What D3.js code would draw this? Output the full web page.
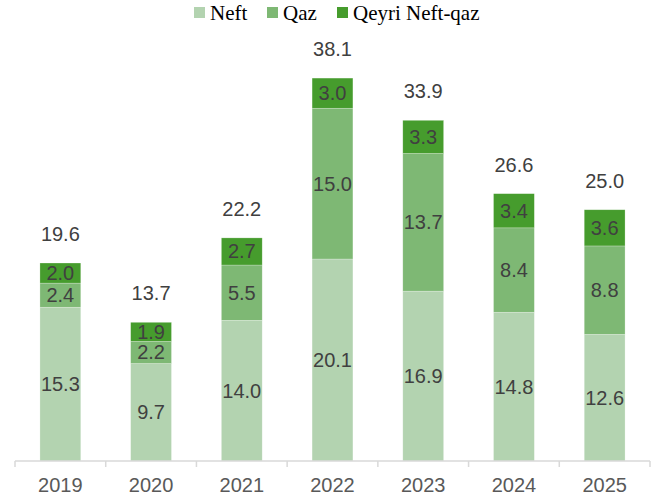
<!DOCTYPE html>
<html>
<head>
<meta charset="utf-8">
<script src="https://d3js.org/d3.v7.min.js"></script>
<style>
  body { margin: 0; background: #fff; }
  .val { font-family: "Liberation Sans", Arial, sans-serif; font-size: 20px; fill: #404040; }
  .legend text { font-family: "Liberation Serif", "Times New Roman", serif; font-size: 21px; fill: #000; }
</style>
</head>
<body>
<script>
var years = ["2019","2020","2021","2022","2023","2024","2025"]
var neft = [15.3, 9.7, 14.0, 20.1, 16.9, 14.8, 12.6]
var qaz = [2.4, 2.2, 5.5, 15.0, 13.7, 8.4, 8.8]
var qeyri = [2.0, 1.9, 2.7, 3.0, 3.3, 3.4, 3.6]
var totals = [19.6, 13.7, 22.2, 38.1, 33.9, 26.6, 25.0]
var seriesNames = ["Neft", "Qaz", "Qeyri Neft-qaz"]
var colors = ["#b3d3b0", "#7eb874", "#469c2d"]

var W = 652, H = 500
var svg = d3.select("body").append("svg").attr("width", W).attr("height", H)

var x = d3.scaleBand().domain(years).range([15, 650]).paddingInner(0.55).paddingOuter(0.275)
var y = d3.scaleLinear().domain([0, 40]).range([461, 59])

var rows = years.map(function(yr, i) {
  return {year: yr, Neft: neft[i], Qaz: qaz[i], "Qeyri Neft-qaz": qeyri[i]}
})
var stack = d3.stack().keys(seriesNames)(rows)

var layers = svg.selectAll(".layer").data(stack).enter().append("g")
  .attr("class", "layer")
  .attr("fill", function(d, i) { return colors[i] })

layers.selectAll("rect").data(function(d) { return d }).enter().append("rect")
  .attr("x", function(d) { return x(d.data.year) })
  .attr("width", x.bandwidth())
  .attr("y", function(d) { return y(d[1]) })
  .attr("height", function(d) { return y(d[0]) - y(d[1]) })
  .attr("stroke", "#ffffff")
  .attr("stroke-opacity", 0.4)
  .attr("stroke-width", 0.6)

// segment labels
layers.selectAll("text").data(function(d) { return d }).enter().append("text")
  .attr("class", "val")
  .attr("text-anchor", "middle")
  .attr("x", function(d) { return x(d.data.year) + x.bandwidth() / 2 })
  .attr("y", function(d) { return (y(d[0]) + y(d[1])) / 2 + 7 })
  .text(function(d) { return d3.format(".1f")(d[1] - d[0]) })

// totals
svg.selectAll(".total").data(years).enter().append("text")
  .attr("class", "val total")
  .attr("text-anchor", "middle")
  .attr("x", function(d) { return x(d) + x.bandwidth() / 2 })
  .attr("y", function(d, i) { return y(neft[i] + qaz[i] + qeyri[i]) - 22 })
  .text(function(d, i) { return d3.format(".1f")(totals[i]) })

// x axis
var axis = svg.append("g").attr("transform", "translate(0,461)")
axis.append("line").attr("x1", 15).attr("x2", 650).attr("stroke", "#d9d9d9").attr("stroke-width", 1.5)
var edges = years.map(function(d) { return x(d) - x.step() * x.paddingInner() / 2 })
edges.push(650)
axis.selectAll(".tick").data(edges).enter().append("line")
  .attr("x1", function(d) { return d }).attr("x2", function(d) { return d })
  .attr("y1", 0).attr("y2", 6)
  .attr("stroke", "#d9d9d9").attr("stroke-width", 1.5)
axis.selectAll(".lbl").data(years).enter().append("text")
  .attr("class", "val")
  .attr("text-anchor", "middle")
  .attr("x", function(d) { return x(d) + x.bandwidth() / 2 })
  .attr("y", 31)
  .style("fill", "#595959")
  .text(function(d) { return d })

// legend
var legX = [194, 267, 337]
var legend = svg.append("g").attr("class", "legend")
var items = legend.selectAll("g").data(seriesNames).enter().append("g")
  .attr("transform", function(d, i) { return "translate(" + legX[i] + ",0)" })
items.append("rect").attr("x", 0).attr("y", 7).attr("width", 11).attr("height", 11)
  .attr("fill", function(d, i) { return colors[i] })
items.append("text").attr("x", 16).attr("y", 20).text(function(d) { return d })
</script>
</body>
</html>
